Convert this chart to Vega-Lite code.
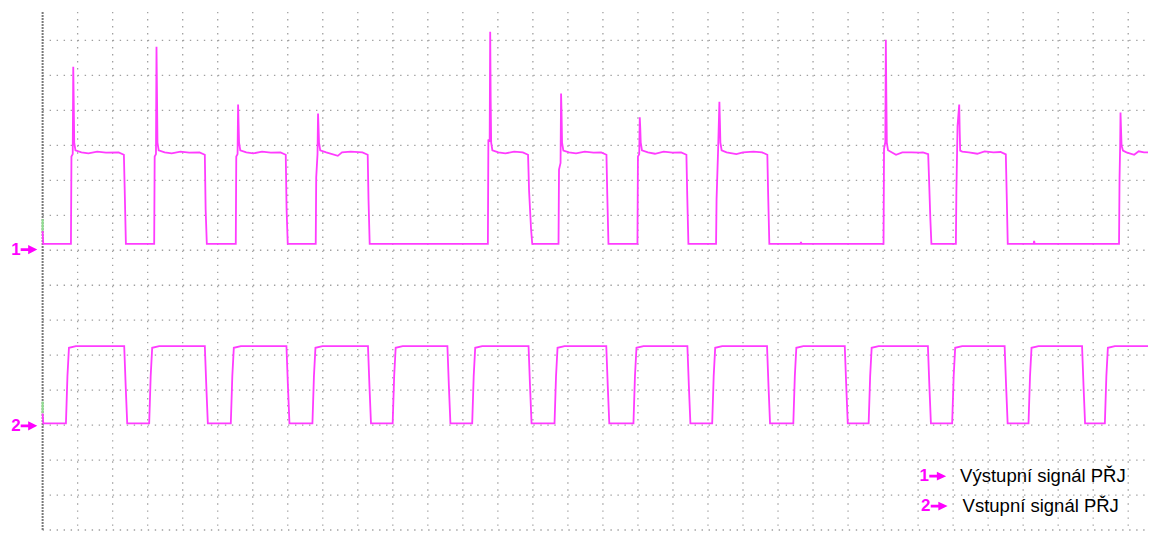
{
  "$schema": "https://vega.github.io/schema/vega-lite/v6.json",
  "width": 1149,
  "height": 533,
  "padding": 0,
  "autosize": {"type": "fit", "contains": "padding"},
  "background": "white",
  "config": {"view": {"stroke": null}},
  "datasets": {
    "hgrid": [{"v":0},{"v":1},{"v":2},{"v":3},{"v":4},{"v":5},{"v":6},{"v":7},{"v":8},{"v":9},{"v":10},{"v":11},{"v":12},{"v":13},{"v":14}],
    "vgrid": [{"t":1},{"t":2},{"t":3},{"t":4},{"t":5},{"t":6},{"t":7},{"t":8},{"t":9},{"t":10},{"t":11},{"t":12},{"t":13},{"t":14},{"t":15},{"t":16},{"t":17},{"t":18},{"t":19},{"t":20},{"t":21},{"t":22},{"t":23},{"t":24},{"t":25},{"t":26},{"t":27},{"t":28},{"t":29},{"t":30},{"t":31}],
    "channels": [
      {"ch": "1", "name": "Výstupní signál PŘJ", "ground": 8.02},
      {"ch": "2", "name": "Vstupní signál PŘJ", "ground": 2.98}
    ],
    "traces": [
      {"ch":1,"t":0,"v":8.547},{"ch":1,"t":0.019,"v":8.18},
      {"ch":1,"t":0.809,"v":8.18},{"ch":1,"t":0.823,"v":10.68},{"ch":1,"t":0.86,"v":10.75},{"ch":1,"t":0.875,"v":13.25},{"ch":1,"t":0.889,"v":12.25},{"ch":1,"t":0.903,"v":11.08},{"ch":1,"t":0.937,"v":10.86},{"ch":1,"t":1.109,"v":10.8},{"ch":1,"t":1.309,"v":10.77},{"ch":1,"t":1.559,"v":10.82},{"ch":1,"t":1.809,"v":10.79},{"ch":1,"t":2.171,"v":10.8},{"ch":1,"t":2.321,"v":10.73},{"ch":1,"t":2.344,"v":9.74},{"ch":1,"t":2.378,"v":8.18},
      {"ch":1,"t":3.186,"v":8.18},{"ch":1,"t":3.2,"v":10.68},{"ch":1,"t":3.237,"v":10.75},{"ch":1,"t":3.252,"v":13.82},{"ch":1,"t":3.266,"v":12.5},{"ch":1,"t":3.28,"v":11.08},{"ch":1,"t":3.314,"v":10.86},{"ch":1,"t":3.486,"v":10.8},{"ch":1,"t":3.686,"v":10.77},{"ch":1,"t":3.936,"v":10.82},{"ch":1,"t":4.186,"v":10.79},{"ch":1,"t":4.482,"v":10.8},{"ch":1,"t":4.632,"v":10.73},{"ch":1,"t":4.655,"v":9.17},{"ch":1,"t":4.689,"v":8.18},
      {"ch":1,"t":5.516,"v":8.18},{"ch":1,"t":5.53,"v":10.68},{"ch":1,"t":5.567,"v":10.75},{"ch":1,"t":5.582,"v":12.17},{"ch":1,"t":5.596,"v":11.6},{"ch":1,"t":5.61,"v":11.08},{"ch":1,"t":5.644,"v":10.86},{"ch":1,"t":5.816,"v":10.8},{"ch":1,"t":6.016,"v":10.77},{"ch":1,"t":6.266,"v":10.82},{"ch":1,"t":6.516,"v":10.79},{"ch":1,"t":6.793,"v":10.8},{"ch":1,"t":6.943,"v":10.73},{"ch":1,"t":6.966,"v":9.2},{"ch":1,"t":7.0,"v":8.18},
      {"ch":1,"t":7.799,"v":8.18},{"ch":1,"t":7.813,"v":10.09},{"ch":1,"t":7.85,"v":10.75},{"ch":1,"t":7.865,"v":11.91},{"ch":1,"t":7.879,"v":11.5},{"ch":1,"t":7.893,"v":11.08},{"ch":1,"t":7.927,"v":10.86},{"ch":1,"t":8.099,"v":10.8},{"ch":1,"t":8.43,"v":10.7},{"ch":1,"t":8.549,"v":10.8},{"ch":1,"t":8.799,"v":10.82},{"ch":1,"t":9.133,"v":10.8},{"ch":1,"t":9.283,"v":10.73},{"ch":1,"t":9.306,"v":9.46},{"ch":1,"t":9.34,"v":8.18},
      {"ch":1,"t":12.715,"v":8.18},{"ch":1,"t":12.729,"v":11.17},{"ch":1,"t":12.766,"v":11.1},{"ch":1,"t":12.781,"v":14.25},{"ch":1,"t":12.795,"v":12.3},{"ch":1,"t":12.809,"v":11.08},{"ch":1,"t":12.843,"v":10.86},{"ch":1,"t":13.015,"v":10.8},{"ch":1,"t":13.215,"v":10.77},{"ch":1,"t":13.465,"v":10.82},{"ch":1,"t":13.712,"v":10.8},{"ch":1,"t":13.862,"v":10.73},{"ch":1,"t":13.891,"v":9.7},{"ch":1,"t":13.948,"v":8.6},{"ch":1,"t":13.982,"v":8.18},
      {"ch":1,"t":14.732,"v":8.18},{"ch":1,"t":14.746,"v":10.31},{"ch":1,"t":14.79,"v":10.5},{"ch":1,"t":14.805,"v":12.48},{"ch":1,"t":14.819,"v":11.9},{"ch":1,"t":14.833,"v":11.08},{"ch":1,"t":14.87,"v":10.85},{"ch":1,"t":15.032,"v":10.8},{"ch":1,"t":15.232,"v":10.77},{"ch":1,"t":15.482,"v":10.82},{"ch":1,"t":15.732,"v":10.79},{"ch":1,"t":15.951,"v":10.8},{"ch":1,"t":16.101,"v":10.73},{"ch":1,"t":16.124,"v":9.6},{"ch":1,"t":16.158,"v":8.18},
      {"ch":1,"t":16.986,"v":8.18},{"ch":1,"t":17.0,"v":10.68},{"ch":1,"t":17.037,"v":10.75},{"ch":1,"t":17.052,"v":11.8},{"ch":1,"t":17.066,"v":11.5},{"ch":1,"t":17.08,"v":11.08},{"ch":1,"t":17.114,"v":10.86},{"ch":1,"t":17.286,"v":10.8},{"ch":1,"t":17.486,"v":10.76},{"ch":1,"t":17.736,"v":10.82},{"ch":1,"t":17.986,"v":10.79},{"ch":1,"t":18.234,"v":10.8},{"ch":1,"t":18.384,"v":10.73},{"ch":1,"t":18.407,"v":9.6},{"ch":1,"t":18.441,"v":8.18},
      {"ch":1,"t":19.231,"v":8.18},{"ch":1,"t":19.245,"v":9.46},{"ch":1,"t":19.29,"v":10.9},{"ch":1,"t":19.326,"v":12.25},{"ch":1,"t":19.34,"v":11.7},{"ch":1,"t":19.354,"v":11.08},{"ch":1,"t":19.39,"v":10.86},{"ch":1,"t":19.531,"v":10.8},{"ch":1,"t":19.81,"v":10.75},{"ch":1,"t":20.0,"v":10.8},{"ch":1,"t":20.3,"v":10.82},{"ch":1,"t":20.545,"v":10.8},{"ch":1,"t":20.695,"v":10.73},{"ch":1,"t":20.718,"v":9.6},{"ch":1,"t":20.752,"v":8.18},
      {"ch":1,"t":21.64,"v":8.18},{"ch":1,"t":21.656,"v":8.24},{"ch":1,"t":21.67,"v":8.18},
      {"ch":1,"t":24.013,"v":8.18},{"ch":1,"t":24.027,"v":10.9},{"ch":1,"t":24.064,"v":11.1},{"ch":1,"t":24.079,"v":14.02},{"ch":1,"t":24.093,"v":12.4},{"ch":1,"t":24.107,"v":11.08},{"ch":1,"t":24.141,"v":10.86},{"ch":1,"t":24.37,"v":10.73},{"ch":1,"t":24.55,"v":10.8},{"ch":1,"t":24.813,"v":10.8},{"ch":1,"t":25.05,"v":10.79},{"ch":1,"t":25.138,"v":10.8},{"ch":1,"t":25.288,"v":10.75},{"ch":1,"t":25.31,"v":10.12},{"ch":1,"t":25.35,"v":8.89},{"ch":1,"t":25.38,"v":8.18},
      {"ch":1,"t":26.079,"v":8.18},{"ch":1,"t":26.093,"v":9.66},{"ch":1,"t":26.126,"v":11.55},{"ch":1,"t":26.174,"v":12.17},{"ch":1,"t":26.188,"v":11.4},{"ch":1,"t":26.202,"v":10.85},{"ch":1,"t":26.26,"v":10.82},{"ch":1,"t":26.45,"v":10.8},{"ch":1,"t":26.69,"v":10.76},{"ch":1,"t":26.9,"v":10.83},{"ch":1,"t":27.15,"v":10.8},{"ch":1,"t":27.355,"v":10.81},{"ch":1,"t":27.505,"v":10.74},{"ch":1,"t":27.53,"v":9.6},{"ch":1,"t":27.56,"v":8.18},
      {"ch":1,"t":28.3,"v":8.18},{"ch":1,"t":28.313,"v":8.27},{"ch":1,"t":28.33,"v":8.18},
      {"ch":1,"t":30.738,"v":8.18},{"ch":1,"t":30.752,"v":10.03},{"ch":1,"t":30.77,"v":11.0},{"ch":1,"t":30.78,"v":11.94},{"ch":1,"t":30.8,"v":11.3},{"ch":1,"t":30.81,"v":11.0},{"ch":1,"t":30.85,"v":10.85},{"ch":1,"t":30.95,"v":10.8},{"ch":1,"t":31.17,"v":10.73},{"ch":1,"t":31.3,"v":10.83},{"ch":1,"t":31.45,"v":10.8},{"ch":1,"t":31.6,"v":10.8},

      {"ch":2,"t":0,"v":3.333},{"ch":2,"t":0.019,"v":3.048},
      {"ch":2,"t":0.666,"v":3.048},{"ch":2,"t":0.709,"v":4.4},{"ch":2,"t":0.752,"v":5.21},{"ch":2,"t":0.952,"v":5.26},{"ch":2,"t":2.33,"v":5.26},{"ch":2,"t":2.373,"v":4.1},{"ch":2,"t":2.416,"v":3.048},
      {"ch":2,"t":3.043,"v":3.048},{"ch":2,"t":3.086,"v":4.4},{"ch":2,"t":3.129,"v":5.21},{"ch":2,"t":3.329,"v":5.26},{"ch":2,"t":4.632,"v":5.26},{"ch":2,"t":4.675,"v":4.1},{"ch":2,"t":4.718,"v":3.048},
      {"ch":2,"t":5.374,"v":3.048},{"ch":2,"t":5.417,"v":4.4},{"ch":2,"t":5.46,"v":5.21},{"ch":2,"t":5.66,"v":5.26},{"ch":2,"t":6.963,"v":5.26},{"ch":2,"t":7.006,"v":4.1},{"ch":2,"t":7.049,"v":3.048},
      {"ch":2,"t":7.705,"v":3.048},{"ch":2,"t":7.748,"v":4.4},{"ch":2,"t":7.791,"v":5.21},{"ch":2,"t":7.991,"v":5.26},{"ch":2,"t":9.291,"v":5.26},{"ch":2,"t":9.334,"v":4.1},{"ch":2,"t":9.377,"v":3.048},
      {"ch":2,"t":9.996,"v":3.048},{"ch":2,"t":10.039,"v":4.4},{"ch":2,"t":10.082,"v":5.21},{"ch":2,"t":10.282,"v":5.26},{"ch":2,"t":11.559,"v":5.26},{"ch":2,"t":11.602,"v":4.1},{"ch":2,"t":11.645,"v":3.048},
      {"ch":2,"t":12.267,"v":3.048},{"ch":2,"t":12.31,"v":4.4},{"ch":2,"t":12.353,"v":5.21},{"ch":2,"t":12.553,"v":5.26},{"ch":2,"t":13.876,"v":5.26},{"ch":2,"t":13.919,"v":4.1},{"ch":2,"t":13.962,"v":3.048},
      {"ch":2,"t":14.618,"v":3.048},{"ch":2,"t":14.661,"v":4.4},{"ch":2,"t":14.704,"v":5.21},{"ch":2,"t":14.904,"v":5.26},{"ch":2,"t":16.096,"v":5.26},{"ch":2,"t":16.139,"v":4.1},{"ch":2,"t":16.182,"v":3.048},
      {"ch":2,"t":16.872,"v":3.048},{"ch":2,"t":16.915,"v":4.4},{"ch":2,"t":16.958,"v":5.21},{"ch":2,"t":17.158,"v":5.26},{"ch":2,"t":18.412,"v":5.26},{"ch":2,"t":18.455,"v":4.1},{"ch":2,"t":18.498,"v":3.048},
      {"ch":2,"t":19.12,"v":3.048},{"ch":2,"t":19.163,"v":4.4},{"ch":2,"t":19.206,"v":5.21},{"ch":2,"t":19.406,"v":5.26},{"ch":2,"t":20.686,"v":5.26},{"ch":2,"t":20.729,"v":4.1},{"ch":2,"t":20.772,"v":3.048},
      {"ch":2,"t":21.437,"v":3.048},{"ch":2,"t":21.48,"v":4.4},{"ch":2,"t":21.523,"v":5.21},{"ch":2,"t":21.723,"v":5.26},{"ch":2,"t":22.906,"v":5.26},{"ch":2,"t":22.949,"v":4.1},{"ch":2,"t":22.992,"v":3.048},
      {"ch":2,"t":23.588,"v":3.048},{"ch":2,"t":23.631,"v":4.4},{"ch":2,"t":23.674,"v":5.21},{"ch":2,"t":23.874,"v":5.26},{"ch":2,"t":25.28,"v":5.26},{"ch":2,"t":25.323,"v":4.1},{"ch":2,"t":25.366,"v":3.048},
      {"ch":2,"t":25.973,"v":3.048},{"ch":2,"t":26.016,"v":4.4},{"ch":2,"t":26.059,"v":5.21},{"ch":2,"t":26.259,"v":5.26},{"ch":2,"t":27.471,"v":5.26},{"ch":2,"t":27.514,"v":4.1},{"ch":2,"t":27.557,"v":3.048},
      {"ch":2,"t":28.153,"v":3.048},{"ch":2,"t":28.196,"v":4.4},{"ch":2,"t":28.239,"v":5.21},{"ch":2,"t":28.439,"v":5.26},{"ch":2,"t":29.682,"v":5.26},{"ch":2,"t":29.725,"v":4.1},{"ch":2,"t":29.768,"v":3.048},
      {"ch":2,"t":30.333,"v":3.048},{"ch":2,"t":30.376,"v":4.4},{"ch":2,"t":30.419,"v":5.21},{"ch":2,"t":30.619,"v":5.26},{"ch":2,"t":31.6,"v":5.26}
    ]
  },
  "layer": [
    {
      "data": {"name": "hgrid"},
      "mark": {"type": "rule", "stroke": "#a0a0a0", "strokeWidth": 1.3, "strokeDash": [1.4, 5.61]},
      "encoding": {
        "y": {"field": "v", "type": "quantitative", "scale": {"domain": [-0.0285, 15.157], "nice": false, "zero": false}, "axis": null},
        "x": {"datum": 0, "type": "quantitative", "scale": {"domain": [-1.2168, 31.565], "nice": false, "zero": false}, "axis": null},
        "x2": {"datum": 31.565}
      }
    },
    {
      "data": {"name": "vgrid"},
      "mark": {"type": "rule", "stroke": "#a0a0a0", "strokeWidth": 1.3, "strokeDash": [1.4, 5.62]},
      "encoding": {
        "x": {"field": "t", "type": "quantitative", "scale": {"domain": [-1.2168, 31.565], "nice": false, "zero": false}, "axis": null},
        "y": {"datum": 14.815, "type": "quantitative", "scale": {"domain": [-0.0285, 15.157], "nice": false, "zero": false}, "axis": null},
        "y2": {"datum": -0.03}
      }
    },
    {
      "data": {"values": [{}]},
      "mark": {"type": "rule", "stroke": "#7a7a7a", "strokeWidth": 2, "strokeDash": [2, 1]},
      "encoding": {
        "x": {"datum": 0, "type": "quantitative", "scale": {"domain": [-1.2168, 31.565], "nice": false, "zero": false}, "axis": null},
        "y": {"datum": 14.815, "type": "quantitative", "scale": {"domain": [-0.0285, 15.157], "nice": false, "zero": false}, "axis": null},
        "y2": {"datum": -0.03}
      }
    },
    {
      "data": {"values": [{}]},
      "mark": {"type": "rule", "stroke": "#8fe08f", "strokeWidth": 2},
      "encoding": {
        "x": {"datum": 0, "type": "quantitative", "scale": {"domain": [-1.2168, 31.565], "nice": false, "zero": false}, "axis": null},
        "y": {"datum": 8.889, "type": "quantitative", "scale": {"domain": [-0.0285, 15.157], "nice": false, "zero": false}, "axis": null},
        "y2": {"datum": 8.547}
      }
    },
    {
      "data": {"values": [{}]},
      "mark": {"type": "rule", "stroke": "#8fe08f", "strokeWidth": 2},
      "encoding": {
        "x": {"datum": 0, "type": "quantitative", "scale": {"domain": [-1.2168, 31.565], "nice": false, "zero": false}, "axis": null},
        "y": {"datum": 3.675, "type": "quantitative", "scale": {"domain": [-0.0285, 15.157], "nice": false, "zero": false}, "axis": null},
        "y2": {"datum": 3.333}
      }
    },
    {
      "data": {"name": "traces"},
      "mark": {"type": "line", "stroke": "#ff3cff", "strokeWidth": 1.8, "clip": true, "interpolate": "linear"},
      "encoding": {
        "x": {"field": "t", "type": "quantitative", "scale": {"domain": [-1.2168, 31.565], "nice": false, "zero": false}, "axis": null},
        "y": {"field": "v", "type": "quantitative", "scale": {"domain": [-0.0285, 15.157], "nice": false, "zero": false}, "axis": null},
        "detail": {"field": "ch", "type": "nominal"}
      }
    },
    {
      "data": {"name": "channels"},
      "mark": {"type": "text", "font": "Liberation Sans", "fontSize": 17, "fontWeight": "bold", "fill": "#ff00ff", "align": "center", "baseline": "middle"},
      "encoding": {
        "x": {"datum": -0.76, "type": "quantitative", "scale": {"domain": [-1.2168, 31.565], "nice": false, "zero": false}, "axis": null},
        "y": {"field": "ground", "type": "quantitative", "scale": {"domain": [-0.0285, 15.157], "nice": false, "zero": false}, "axis": null},
        "text": {"field": "ch"}
      }
    },
    {
      "data": {"name": "channels"},
      "mark": {"type": "point", "shape": "M-1,-0.16L-0.1,-0.16L-0.1,-0.56L1,0L-0.1,0.56L-0.1,0.16L-1,0.16Z", "size": 276, "filled": true, "fill": "#ff00ff", "opacity": 1, "strokeWidth": 0},
      "encoding": {
        "x": {"datum": -0.389, "type": "quantitative", "scale": {"domain": [-1.2168, 31.565], "nice": false, "zero": false}, "axis": null},
        "y": {"field": "ground", "type": "quantitative", "scale": {"domain": [-0.0285, 15.157], "nice": false, "zero": false}, "axis": null}
      }
    },
    {
      "data": {"name": "channels"},
      "transform": [{"filter": "datum.ch === '1'"}],
      "encoding": {
        "y": {"datum": 1.538, "type": "quantitative", "scale": {"domain": [-0.0285, 15.157], "nice": false, "zero": false}, "axis": null}
      },
      "layer": [
        {
          "mark": {"type": "text", "font": "Liberation Sans", "fontSize": 17, "fontWeight": "bold", "fill": "#ff00ff", "align": "center", "baseline": "middle"},
          "encoding": {
            "x": {"datum": 25.174, "type": "quantitative", "scale": {"domain": [-1.2168, 31.565], "nice": false, "zero": false}, "axis": null},
            "text": {"field": "ch"}
          }
        },
        {
          "mark": {"type": "point", "shape": "M-1,-0.16L-0.1,-0.16L-0.1,-0.52L1,0L-0.1,0.52L-0.1,0.16L-1,0.16Z", "size": 285, "filled": true, "fill": "#ff00ff", "opacity": 1, "strokeWidth": 0},
          "encoding": {
            "x": {"datum": 25.56, "type": "quantitative", "scale": {"domain": [-1.2168, 31.565], "nice": false, "zero": false}, "axis": null}
          }
        },
        {
          "mark": {"type": "text", "font": "Liberation Sans", "fontSize": 18.5, "fill": "#000000", "align": "left", "baseline": "middle"},
          "encoding": {
            "x": {"datum": 26.2, "type": "quantitative", "scale": {"domain": [-1.2168, 31.565], "nice": false, "zero": false}, "axis": null},
            "text": {"field": "name"}
          }
        }
      ]
    },
    {
      "data": {"name": "channels"},
      "transform": [{"filter": "datum.ch === '2'"}],
      "encoding": {
        "y": {"datum": 0.684, "type": "quantitative", "scale": {"domain": [-0.0285, 15.157], "nice": false, "zero": false}, "axis": null}
      },
      "layer": [
        {
          "mark": {"type": "text", "font": "Liberation Sans", "fontSize": 17, "fontWeight": "bold", "fill": "#ff00ff", "align": "center", "baseline": "middle"},
          "encoding": {
            "x": {"datum": 25.217, "type": "quantitative", "scale": {"domain": [-1.2168, 31.565], "nice": false, "zero": false}, "axis": null},
            "text": {"field": "ch"}
          }
        },
        {
          "mark": {"type": "point", "shape": "M-1,-0.16L-0.1,-0.16L-0.1,-0.52L1,0L-0.1,0.52L-0.1,0.16L-1,0.16Z", "size": 285, "filled": true, "fill": "#ff00ff", "opacity": 1, "strokeWidth": 0},
          "encoding": {
            "x": {"datum": 25.602, "type": "quantitative", "scale": {"domain": [-1.2168, 31.565], "nice": false, "zero": false}, "axis": null}
          }
        },
        {
          "mark": {"type": "text", "font": "Liberation Sans", "fontSize": 18.5, "fill": "#000000", "align": "left", "baseline": "middle"},
          "encoding": {
            "x": {"datum": 26.27, "type": "quantitative", "scale": {"domain": [-1.2168, 31.565], "nice": false, "zero": false}, "axis": null},
            "text": {"field": "name"}
          }
        }
      ]
    }
  ]
}
